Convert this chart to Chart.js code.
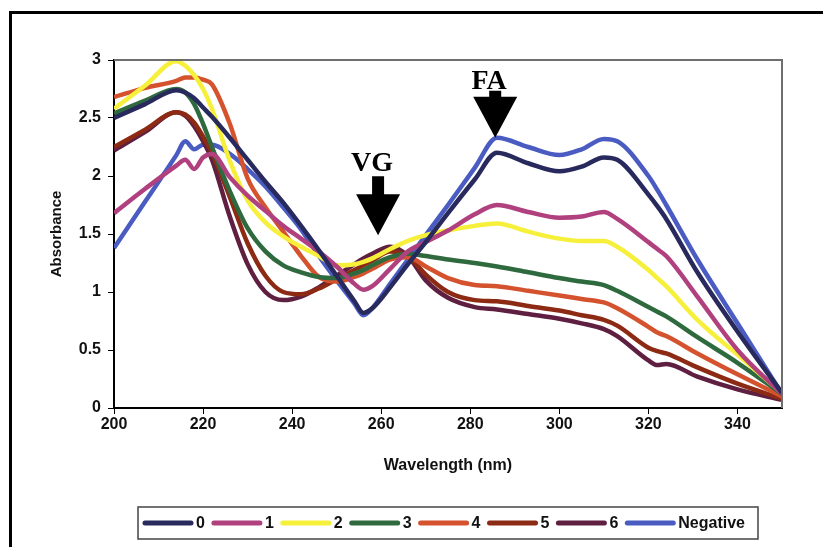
<!DOCTYPE html>
<html>
<head>
<meta charset="utf-8">
<script src="https://cdn.jsdelivr.net/npm/chart.js@4.4.1/dist/chart.umd.min.js"></script>
<style>
html,body{margin:0;padding:0;background:#fff;}
#wrap{width:823px;height:547px;position:relative;}
canvas{display:block;}
</style>
</head>
<body>
<div id="wrap"><canvas id="c" width="823" height="547" style="width:823px;height:547px"></canvas></div>
<script>
// ---------- DATA ----------
const wavelengths = [200, 207, 214, 216, 218, 220, 222, 226, 230, 234, 238, 242, 246, 250, 254, 256, 258, 262, 266, 270, 275, 281, 286, 293, 300, 305, 310, 313, 320, 322, 324, 331, 340, 350];

const seriesLabels = ['0', '1', '2', '3', '4', '5', '6', 'Negative'];

const s0 = [2.50, 2.62, 2.74, 2.72, 2.67, 2.59, 2.51, 2.33, 2.14, 1.95, 1.77, 1.57, 1.36, 1.14, 0.92, 0.82, 0.86, 1.04, 1.24, 1.43, 1.68, 1.97, 2.20, 2.11, 2.04, 2.08, 2.16, 2.14, 1.84, 1.74, 1.63, 1.17, 0.66, 0.13];
const s1 = [1.68, 1.89, 2.09, 2.14, 2.06, 2.16, 2.19, 1.99, 1.83, 1.70, 1.57, 1.46, 1.35, 1.22, 1.07, 1.02, 1.05, 1.20, 1.35, 1.43, 1.53, 1.67, 1.75, 1.69, 1.64, 1.65, 1.69, 1.63, 1.43, 1.37, 1.31, 0.96, 0.50, 0.12];
const s2 = [2.58, 2.78, 2.99, 2.95, 2.87, 2.75, 2.58, 2.13, 1.79, 1.60, 1.48, 1.39, 1.31, 1.23, 1.24, 1.26, 1.29, 1.37, 1.44, 1.49, 1.53, 1.57, 1.59, 1.52, 1.46, 1.44, 1.44, 1.39, 1.19, 1.12, 1.05, 0.76, 0.46, 0.13];
const s3 = [2.54, 2.65, 2.75, 2.72, 2.62, 2.45, 2.25, 1.87, 1.55, 1.35, 1.23, 1.17, 1.13, 1.12, 1.16, 1.19, 1.23, 1.30, 1.33, 1.31, 1.28, 1.25, 1.22, 1.17, 1.12, 1.09, 1.06, 1.01, 0.87, 0.83, 0.79, 0.61, 0.39, 0.12];
const s4 = [2.68, 2.76, 2.82, 2.85, 2.85, 2.83, 2.79, 2.45, 1.98, 1.73, 1.52, 1.31, 1.13, 1.09, 1.13, 1.16, 1.20, 1.28, 1.30, 1.22, 1.12, 1.06, 1.05, 1.01, 0.97, 0.94, 0.91, 0.86, 0.70, 0.65, 0.62, 0.47, 0.29, 0.10];
const s5 = [2.25, 2.40, 2.55, 2.53, 2.46, 2.34, 2.20, 1.82, 1.42, 1.14, 1.00, 0.98, 1.03, 1.11, 1.19, 1.23, 1.27, 1.35, 1.31, 1.15, 1.00, 0.93, 0.92, 0.88, 0.84, 0.80, 0.76, 0.71, 0.52, 0.49, 0.47, 0.35, 0.21, 0.08];
const s6 = [2.22, 2.38, 2.55, 2.52, 2.43, 2.30, 2.14, 1.65, 1.24, 1.00, 0.93, 0.96, 1.04, 1.14, 1.24, 1.29, 1.33, 1.39, 1.31, 1.10, 0.95, 0.87, 0.85, 0.81, 0.77, 0.73, 0.68, 0.62, 0.41, 0.37, 0.38, 0.27, 0.16, 0.07];
const sNeg = [1.38, 1.78, 2.18, 2.30, 2.23, 2.27, 2.27, 2.19, 2.06, 1.91, 1.73, 1.54, 1.31, 1.10, 0.90, 0.80, 0.86, 1.07, 1.28, 1.49, 1.75, 2.07, 2.33, 2.25, 2.18, 2.23, 2.32, 2.30, 2.00, 1.88, 1.75, 1.28, 0.73, 0.12];

const xTickValues = [200, 220, 240, 260, 280, 300, 320, 340];
const yTickValues = [0, 0.5, 1, 1.5, 2, 2.5, 3];

const annotationLabels = ['VG', 'FA'];
const annotationWavelengths = [259.3, 285.6];
const annotationAbsorbances = [1.49, 2.33];

// ---------- STYLE ----------
const seriesColors = ['#28295c', '#b0407e', '#f6f03a', '#2f6a3f', '#d4532e', '#8c2a14', '#5e1f40', '#4a5cc2'];
const allSeries = [s0, s1, s2, s3, s4, s5, s6, sNeg];

const datasets = allSeries.map((vals, i) => ({
  label: seriesLabels[i],
  data: wavelengths.map((w, j) => ({x: w, y: vals[j]})),
  borderColor: seriesColors[i],
  backgroundColor: seriesColors[i],
  borderWidth: 4.5,
  pointRadius: 0,
  cubicInterpolationMode: 'monotone',
  fill: false
}));

const FONT = '"Liberation Sans", Arial, Helvetica, sans-serif';
const SERIF = '"Liberation Serif", "Times New Roman", serif';

const decorPlugin = {
  id: 'decor',
  beforeDraw(chart) {
    const ctx = chart.ctx;
    ctx.save();
    ctx.fillStyle = '#fff';
    ctx.fillRect(0, 0, chart.width, chart.height);
    ctx.strokeStyle = '#000';
    ctx.lineWidth = 3;
    ctx.beginPath();
    ctx.moveTo(10.5, chart.height + 5);
    ctx.lineTo(10.5, 12.5);
    ctx.lineTo(chart.width + 5, 12.5);
    ctx.stroke();
    ctx.restore();
  },
  afterDraw(chart) {
    const ctx = chart.ctx;
    const ca = chart.chartArea;
    const xs = chart.scales.x, ys = chart.scales.y;
    ctx.save();
    ctx.strokeStyle = '#6e6e6e';
    ctx.lineWidth = 2;
    ctx.beginPath();
    ctx.moveTo(ca.left, ca.top);
    ctx.lineTo(ca.right, ca.top);
    ctx.lineTo(ca.right, ca.bottom);
    ctx.stroke();

    const shaftLen = [18, 6];
    const textGap = [5, 2];
    annotationLabels.forEach((lab, i) => {
      const px = xs.getPixelForValue(annotationWavelengths[i]);
      const py = ys.getPixelForValue(annotationAbsorbances[i]);
      const headH = 41, headHalf = 22, shaftHalf = 6;
      const headTop = py - headH;
      const shaftTop = headTop - shaftLen[i];
      ctx.fillStyle = '#000';
      ctx.beginPath();
      ctx.moveTo(px, py);
      ctx.lineTo(px - headHalf, headTop);
      ctx.lineTo(px - shaftHalf, headTop);
      ctx.lineTo(px - shaftHalf, shaftTop);
      ctx.lineTo(px + shaftHalf, shaftTop);
      ctx.lineTo(px + shaftHalf, headTop);
      ctx.lineTo(px + headHalf, headTop);
      ctx.closePath();
      ctx.fill();
      ctx.font = 'bold 28px ' + SERIF;
      ctx.textAlign = 'center';
      ctx.textBaseline = 'alphabetic';
      ctx.fillText(lab, px - 6, shaftTop - textGap[i]);
    });

    ctx.font = 'bold 16px ' + FONT;
    const sampleW = 50, gap = 3, spacing = 7, padL = 5, padR = 13;
    const items = chart.data.datasets.map(d => ({
      label: d.label, color: d.borderColor,
      tw: ctx.measureText(d.label).width
    }));
    let total = padL + padR + spacing * (items.length - 1);
    items.forEach(it => total += sampleW + gap + it.tw);
    const cx = (ca.left + ca.right) / 2;
    const boxL = cx - total / 2;
    const boxT = ca.bottom + 99, boxH = 32;
    ctx.strokeStyle = '#444';
    ctx.lineWidth = 1.5;
    ctx.strokeRect(boxL, boxT, total, boxH);
    const cy = boxT + boxH / 2;
    let x = boxL + padL;
    items.forEach(it => {
      ctx.strokeStyle = it.color;
      ctx.lineWidth = 5;
      ctx.lineCap = 'round';
      ctx.beginPath();
      ctx.moveTo(x + 2, cy);
      ctx.lineTo(x + sampleW - 2, cy);
      ctx.stroke();
      ctx.fillStyle = '#111';
      ctx.textAlign = 'left';
      ctx.textBaseline = 'middle';
      ctx.fillText(it.label, x + sampleW + gap, cy + 1);
      x += sampleW + gap + it.tw + spacing;
    });
    ctx.restore();
  }
};

new Chart(document.getElementById('c'), {
  type: 'line',
  data: {datasets},
  plugins: [decorPlugin],
  options: {
    responsive: false,
    animation: false,
    devicePixelRatio: 1,
    layout: {padding: {left: 44, top: 60, right: 41, bottom: 71}},
    plugins: {legend: {display: false}, tooltip: {enabled: false}},
    scales: {
      x: {
        type: 'linear', min: 200, max: 350,
        afterBuildTicks: s => { s.ticks = xTickValues.map(v => ({value: v})); },
        afterFit: s => { s.height = 68; },
        grid: {display: true, drawOnChartArea: false, drawTicks: true, tickLength: 6, color: '#000', lineWidth: 1},
        border: {display: true, color: '#000', width: 2},
        ticks: {color: '#111', font: {family: FONT, size: 16, weight: 'bold'}, padding: 1, maxRotation: 0, autoSkip: false, callback: v => String(v)},
        title: {display: true, text: 'Wavelength (nm)', color: '#111', font: {family: FONT, size: 16, weight: 'bold'}, padding: {top: 4, bottom: 1}}
      },
      y: {
        type: 'linear', min: 0, max: 3,
        afterBuildTicks: s => { s.ticks = yTickValues.map(v => ({value: v})); },
        afterFit: s => { s.width = 70; },
        grid: {display: true, drawOnChartArea: false, drawTicks: true, tickLength: 6, color: '#000', lineWidth: 1},
        border: {display: true, color: '#000', width: 2},
        ticks: {color: '#111', font: {family: FONT, size: 16, weight: 'bold'}, padding: 7, callback: v => String(v)},
        title: {display: true, text: 'Absorbance', color: '#111', font: {family: FONT, size: 15, weight: 'bold'}, padding: {top: 4, bottom: 0}}
      }
    }
  }
});
</script>
</body>
</html>
